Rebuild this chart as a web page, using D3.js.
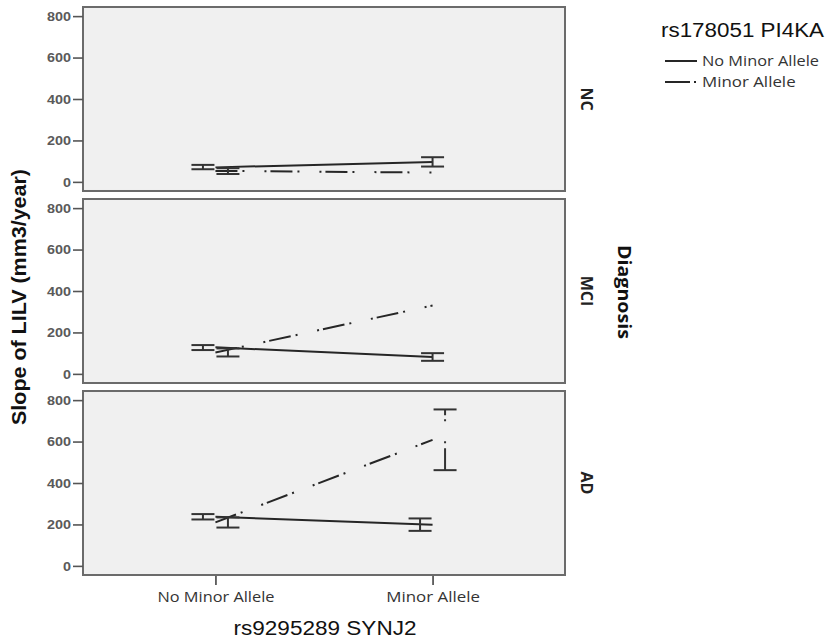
<!DOCTYPE html>
<html><head><meta charset="utf-8">
<script src="https://cdn.jsdelivr.net/npm/d3@7"></script>
<style>body{margin:0;background:#fff}svg{display:block}</style>
</head><body><svg id="c" width="827" height="640"></svg>
<script>
const categories = ["No Minor Allele", "Minor Allele"];
const panels = ["NC", "MCI", "AD"];
const seriesNames = ["No Minor Allele", "Minor Allele"];
const yTicks = [0, 200, 400, 600, 800];
// per panel [NC, MCI, AD], per category
const noMinorMean = [[70, 96], [128, 82], [237, 199]];
const noMinorLow  = [[61, 74], [115, 63], [224, 169]];
const noMinorHigh = [[82, 119], [139, 100], [250, 229]];
const minorMean = [[53, 45], [103, 330], [210, 608]];
const minorLow  = [[38, null], [84, null], [185, 462]];
const minorHigh = [[66, null], [123, null], [234, 755]];

const svg = d3.select("#c");
const L = 83, R = 565;
const x = d3.scalePoint().domain(categories).range([L, R]).padding(0.61);
const py = d3.scaleBand().domain(panels).range([7, 575]).paddingInner(0.0417);
const dashes = [null, "22,5,2,20,2,4"];

const seriesData = [
  {name: seriesNames[0], mean: noMinorMean, lo: noMinorLow, hi: noMinorHigh},
  {name: seriesNames[1], mean: minorMean, lo: minorLow, hi: minorHigh}
];

panels.forEach((p, pi) => {
  const top = py(p), h = py.bandwidth();
  const y = d3.scaleLinear().domain([-44, 844]).range([top + h, top]);
  const g = svg.append("g");
  g.append("rect").attr("x", L).attr("y", top).attr("width", R - L).attr("height", h)
    .attr("fill", "#f0f0f0").attr("stroke", "#6b6b6b").attr("stroke-width", 2);
  const ax = g.append("g").attr("transform", `translate(${L},0)`)
    .call(d3.axisLeft(y).tickValues(yTicks).tickSize(10).tickPadding(2));
  ax.select(".domain").remove();
  ax.selectAll(".tick line").attr("stroke", "#555").attr("stroke-width", 1.6);
  ax.selectAll(".tick text").attr("fill", "#5a5a5a").attr("font-family", "Liberation Sans, Arial, sans-serif")
    .attr("font-weight", "bold").attr("font-size", 13)
    .attr("textLength", d => String(d).length * 8).attr("lengthAdjust", "spacingAndGlyphs");

  // lines
  seriesData.forEach((s, si) => {
    const pts = categories.map((c, ci) => [x(c), y(s.mean[pi][ci])]);
    g.append("path").attr("d", d3.line()(pts)).attr("fill", "none")
      .attr("stroke", "#262626").attr("stroke-width", 2)
      .attr("stroke-dasharray", dashes[si]);
  });
  // error bars
  categories.forEach((c, ci) => {
    const both = seriesData.every(s => s.lo[pi][ci] != null);
    seriesData.forEach((s, si) => {
      if (s.lo[pi][ci] == null) return;
      const cx = x(c) + (both ? (si === 0 ? -12.5 : 12.5) : 0);
      const hw = 11.5;
      const eg = g.append("g").attr("stroke", "#333").attr("stroke-width", 2).attr("fill", "none");
      const y1 = y(s.lo[pi][ci]), y2 = y(s.hi[pi][ci]);
      eg.append("line").attr("x1", cx).attr("x2", cx).attr("y1", y1).attr("y2", y2)
        .attr("stroke-dasharray", dashes[si]);
      eg.append("line").attr("x1", cx - hw).attr("x2", cx + hw).attr("y1", y1).attr("y2", y1);
      eg.append("line").attr("x1", cx - hw).attr("x2", cx + hw).attr("y1", y2).attr("y2", y2);
    });
  });
  // panel label
  svg.append("text").attr("transform", `translate(${581},${top + h / 2}) rotate(90)`)
    .attr("text-anchor", "middle").attr("font-family", "Open Sans, sans-serif").attr("font-weight", "bold")
    .attr("font-size", 16).attr("fill", "#222").text(p);
});

// x axis at bottom
const bottom = py(panels[2]) + py.bandwidth();
const xa = svg.append("g").attr("transform", `translate(0,${bottom + 1})`)
  .call(d3.axisBottom(x).tickSize(9).tickPadding(6));
xa.select(".domain").remove();
xa.selectAll(".tick line").attr("stroke", "#444").attr("stroke-width", 1.6);
xa.selectAll(".tick text").attr("fill", "#333").attr("font-family", "Open Sans, sans-serif")
  .attr("font-size", 15).attr("textLength", d => d.length * 7.8).attr("lengthAdjust", "spacingAndGlyphs");

// axis titles
svg.append("text").attr("x", 325).attr("y", 635).attr("text-anchor", "middle")
  .attr("font-family", "Liberation Sans, Arial, sans-serif").attr("font-size", 20).attr("fill", "#111")
  .attr("textLength", 183).attr("lengthAdjust", "spacingAndGlyphs").text("rs9295289 SYNJ2");
svg.append("text").attr("transform", "translate(26,297) rotate(-90)").attr("text-anchor", "middle")
  .attr("font-family", "Liberation Sans, Arial, sans-serif").attr("font-weight", "bold").attr("font-size", 20)
  .attr("fill", "#111").attr("textLength", 256).attr("lengthAdjust", "spacingAndGlyphs")
  .text("Slope of LILV (mm3/year)");
svg.append("text").attr("transform", "translate(618,292) rotate(90)").attr("text-anchor", "middle")
  .attr("font-family", "Open Sans, sans-serif").attr("font-weight", "bold").attr("font-size", 17)
  .attr("fill", "#111").attr("textLength", 94).attr("lengthAdjust", "spacingAndGlyphs").text("Diagnosis");

// legend
const lg = svg.append("g");
lg.append("text").attr("x", 661).attr("y", 37).attr("font-family", "Liberation Sans, Arial, sans-serif")
  .attr("font-size", 20).attr("fill", "#111").attr("textLength", 163).attr("lengthAdjust", "spacingAndGlyphs")
  .text("rs178051 PI4KA");
seriesNames.forEach((n, i) => {
  const yy = 61 + i * 21;
  lg.append("line").attr("x1", 665).attr("x2", 697).attr("y1", yy).attr("y2", yy)
    .attr("stroke", "#262626").attr("stroke-width", 2).attr("stroke-dasharray", i ? "25,4,2,10" : null);
  lg.append("text").attr("x", 702).attr("y", yy + 5).attr("font-family", "Open Sans, sans-serif")
    .attr("font-size", 15).attr("fill", "#333")
    .attr("textLength", n.length * 7.8).attr("lengthAdjust", "spacingAndGlyphs").text(n);
});
</script></body></html>
